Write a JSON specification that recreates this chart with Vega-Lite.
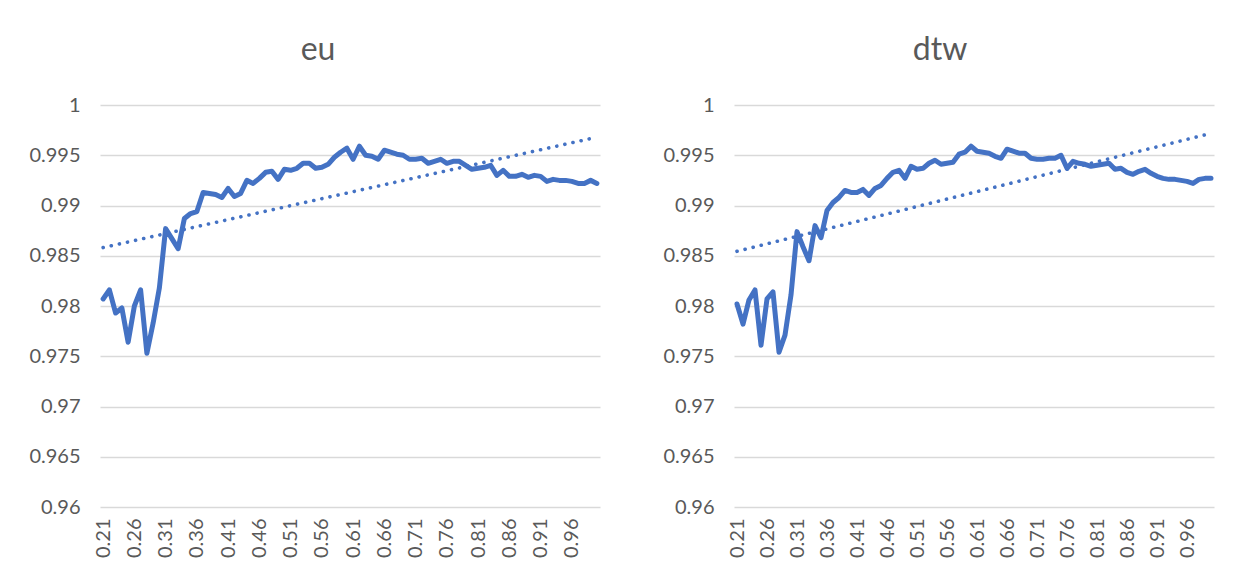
{
  "$schema": "https://vega.github.io/schema/vega-lite/v6.json",
  "background": "white",
  "padding": {"left": 28, "top": 34, "right": 10, "bottom": 5},
  "spacing": 57,
  "datasets": {
    "eu": [
      {"x":0.21,"v":0.9807},{"x":0.22,"v":0.9816},{"x":0.23,"v":0.9793},{"x":0.24,"v":0.9798},{"x":0.25,"v":0.9764},
      {"x":0.26,"v":0.9800},{"x":0.27,"v":0.9816},{"x":0.28,"v":0.9753},{"x":0.29,"v":0.9783},{"x":0.30,"v":0.9818},
      {"x":0.31,"v":0.9877},{"x":0.32,"v":0.9867},{"x":0.33,"v":0.9857},{"x":0.34,"v":0.9887},{"x":0.35,"v":0.9892},
      {"x":0.36,"v":0.9894},{"x":0.37,"v":0.9913},{"x":0.38,"v":0.9912},{"x":0.39,"v":0.9911},{"x":0.40,"v":0.9908},
      {"x":0.41,"v":0.9917},{"x":0.42,"v":0.9909},{"x":0.43,"v":0.9912},{"x":0.44,"v":0.9925},{"x":0.45,"v":0.9922},
      {"x":0.46,"v":0.9927},{"x":0.47,"v":0.9933},{"x":0.48,"v":0.9934},{"x":0.49,"v":0.9926},{"x":0.50,"v":0.9936},
      {"x":0.51,"v":0.9935},{"x":0.52,"v":0.9937},{"x":0.53,"v":0.9942},{"x":0.54,"v":0.9942},{"x":0.55,"v":0.9937},
      {"x":0.56,"v":0.9938},{"x":0.57,"v":0.9941},{"x":0.58,"v":0.9948},{"x":0.59,"v":0.9953},{"x":0.60,"v":0.9957},
      {"x":0.61,"v":0.9946},{"x":0.62,"v":0.9959},{"x":0.63,"v":0.9950},{"x":0.64,"v":0.9949},{"x":0.65,"v":0.9946},
      {"x":0.66,"v":0.9955},{"x":0.67,"v":0.9953},{"x":0.68,"v":0.9951},{"x":0.69,"v":0.9950},{"x":0.70,"v":0.9946},
      {"x":0.71,"v":0.9946},{"x":0.72,"v":0.9947},{"x":0.73,"v":0.9942},{"x":0.74,"v":0.9944},{"x":0.75,"v":0.9946},
      {"x":0.76,"v":0.9942},{"x":0.77,"v":0.9944},{"x":0.78,"v":0.9944},{"x":0.79,"v":0.9940},{"x":0.80,"v":0.9936},
      {"x":0.81,"v":0.9937},{"x":0.82,"v":0.9938},{"x":0.83,"v":0.9940},{"x":0.84,"v":0.9930},{"x":0.85,"v":0.9935},
      {"x":0.86,"v":0.9929},{"x":0.87,"v":0.9929},{"x":0.88,"v":0.9931},{"x":0.89,"v":0.9928},{"x":0.90,"v":0.9930},
      {"x":0.91,"v":0.9929},{"x":0.92,"v":0.9924},{"x":0.93,"v":0.9926},{"x":0.94,"v":0.9925},{"x":0.95,"v":0.9925},
      {"x":0.96,"v":0.9924},{"x":0.97,"v":0.9922},{"x":0.98,"v":0.9922},{"x":0.99,"v":0.9925},{"x":1.00,"v":0.9922}
    ],
    "dtw": [
      {"x":0.21,"v":0.9802},{"x":0.22,"v":0.9782},{"x":0.23,"v":0.9806},{"x":0.24,"v":0.9816},{"x":0.25,"v":0.9761},
      {"x":0.26,"v":0.9807},{"x":0.27,"v":0.9814},{"x":0.28,"v":0.9754},{"x":0.29,"v":0.9771},{"x":0.30,"v":0.9811},
      {"x":0.31,"v":0.9874},{"x":0.32,"v":0.9859},{"x":0.33,"v":0.9845},{"x":0.34,"v":0.9880},{"x":0.35,"v":0.9868},
      {"x":0.36,"v":0.9895},{"x":0.37,"v":0.9903},{"x":0.38,"v":0.9908},{"x":0.39,"v":0.9915},{"x":0.40,"v":0.9913},
      {"x":0.41,"v":0.9913},{"x":0.42,"v":0.9916},{"x":0.43,"v":0.9910},{"x":0.44,"v":0.9917},{"x":0.45,"v":0.9920},
      {"x":0.46,"v":0.9927},{"x":0.47,"v":0.9933},{"x":0.48,"v":0.9935},{"x":0.49,"v":0.9927},{"x":0.50,"v":0.9939},
      {"x":0.51,"v":0.9936},{"x":0.52,"v":0.9937},{"x":0.53,"v":0.9942},{"x":0.54,"v":0.9945},{"x":0.55,"v":0.9941},
      {"x":0.56,"v":0.9942},{"x":0.57,"v":0.9943},{"x":0.58,"v":0.9951},{"x":0.59,"v":0.9953},{"x":0.60,"v":0.9959},
      {"x":0.61,"v":0.9954},{"x":0.62,"v":0.9953},{"x":0.63,"v":0.9952},{"x":0.64,"v":0.9949},{"x":0.65,"v":0.9947},
      {"x":0.66,"v":0.9956},{"x":0.67,"v":0.9954},{"x":0.68,"v":0.9952},{"x":0.69,"v":0.9952},{"x":0.70,"v":0.9947},
      {"x":0.71,"v":0.9946},{"x":0.72,"v":0.9946},{"x":0.73,"v":0.9947},{"x":0.74,"v":0.9947},{"x":0.75,"v":0.9950},
      {"x":0.76,"v":0.9937},{"x":0.77,"v":0.9944},{"x":0.78,"v":0.9942},{"x":0.79,"v":0.9941},{"x":0.80,"v":0.9939},
      {"x":0.81,"v":0.9940},{"x":0.82,"v":0.9941},{"x":0.83,"v":0.9942},{"x":0.84,"v":0.9936},{"x":0.85,"v":0.9937},
      {"x":0.86,"v":0.9933},{"x":0.87,"v":0.9931},{"x":0.88,"v":0.9934},{"x":0.89,"v":0.9936},{"x":0.90,"v":0.9932},
      {"x":0.91,"v":0.9929},{"x":0.92,"v":0.9927},{"x":0.93,"v":0.9926},{"x":0.94,"v":0.9926},{"x":0.95,"v":0.9925},
      {"x":0.96,"v":0.9924},{"x":0.97,"v":0.9922},{"x":0.98,"v":0.9926},{"x":0.99,"v":0.9927},{"x":1.00,"v":0.9927}
    ]
  },
  "config": {
    "view": {"stroke": null},
    "font": "Lato",
    "axis": {
      "labelFont": "Lato",
      "labelColor": "#595959",
      "labelFontSize": 20,
      "domain": false,
      "ticks": false,
      "title": null,
      "gridColor": "#d9d9d9",
      "gridWidth": 1.3
    }
  },
  "hconcat": [
    {
      "width": 500,
      "height": 402,
      "title": {"text": "eu", "fontSize": 32, "font": "Lato", "fontWeight": "normal", "color": "#595959", "dx": -32, "offset": 3, "baseline": "alphabetic"},
      "data": {"name": "eu"},
      "encoding": {
        "x": {"field": "x", "type": "quantitative",
              "scale": {"domain": [0.205, 1.005], "nice": false, "zero": false},
              "axis": {"values": [0.21,0.26,0.31,0.36,0.41,0.46,0.51,0.56,0.61,0.66,0.71,0.76,0.81,0.86,0.91,0.96], "format": ".2f", "labelAngle": -90, "grid": false, "labelPadding": 11}},
        "y": {"field": "v", "type": "quantitative",
              "scale": {"domain": [0.96, 1], "nice": false, "zero": false},
              "axis": {"values": [0.96,0.965,0.97,0.975,0.98,0.985,0.99,0.995,1], "format": "~g", "labelPadding": 20}}
      },
      "layer": [
        {"mark": {"type": "line", "color": "#4472C4", "strokeWidth": 5, "strokeJoin": "round", "strokeCap": "round"}},
        {"transform": [{"regression": "v", "on": "x", "extent": [0.21, 1.0]}],
         "mark": {"type": "line", "color": "#4472C4", "strokeWidth": 3.6, "strokeDash": [0.1, 8.2], "strokeCap": "round"}}
      ]
    },
    {
      "width": 480,
      "height": 402,
      "title": {"text": "dtw", "fontSize": 32, "font": "Lato", "fontWeight": "normal", "color": "#595959", "dx": -34, "offset": 3, "baseline": "alphabetic"},
      "data": {"name": "dtw"},
      "encoding": {
        "x": {"field": "x", "type": "quantitative",
              "scale": {"domain": [0.205, 1.005], "nice": false, "zero": false},
              "axis": {"values": [0.21,0.26,0.31,0.36,0.41,0.46,0.51,0.56,0.61,0.66,0.71,0.76,0.81,0.86,0.91,0.96], "format": ".2f", "labelAngle": -90, "grid": false, "labelPadding": 11}},
        "y": {"field": "v", "type": "quantitative",
              "scale": {"domain": [0.96, 1], "nice": false, "zero": false},
              "axis": {"values": [0.96,0.965,0.97,0.975,0.98,0.985,0.99,0.995,1], "format": "~g", "labelPadding": 20}}
      },
      "layer": [
        {"mark": {"type": "line", "color": "#4472C4", "strokeWidth": 5, "strokeJoin": "round", "strokeCap": "round"}},
        {"transform": [{"regression": "v", "on": "x", "extent": [0.21, 1.0]}],
         "mark": {"type": "line", "color": "#4472C4", "strokeWidth": 3.6, "strokeDash": [0.1, 8.2], "strokeCap": "round"}}
      ]
    }
  ]
}
